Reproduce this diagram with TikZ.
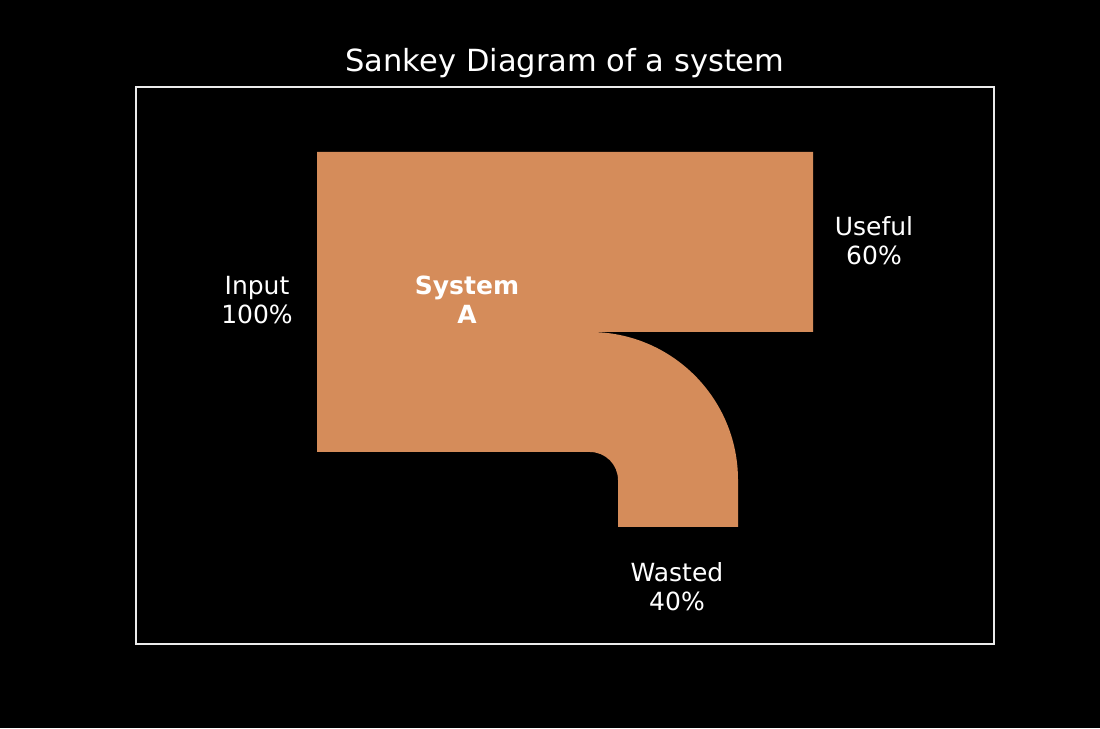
\documentclass[tikz,border=0pt]{standalone}
\usepackage{fontspec}
\setmainfont{DejaVu Sans}
\definecolor{flow}{RGB}{213,140,90}
\begin{document}
\begin{tikzpicture}[x=1pt,y=1pt,
  lbl/.style={text=white,align=center,font=\fontsize{25}{29}\selectfont,inner sep=0pt},
  ttl/.style={text=white,font=\fontsize{30.5}{34}\selectfont,inner sep=0pt}]
\fill[black] (0,0) rectangle (1100,728);
\useasboundingbox (0,0) rectangle (1100,728);
\draw[white!92!black,line width=2pt] (136,84) rectangle (994,641);
\fill[flow] (317,576) -- (813,576) -- (813,396) -- (590,396)
  arc[start angle=90,end angle=0,radius=148] -- (738,201) -- (618,201) -- (618,248)
  arc[start angle=0,end angle=90,radius=28] -- (317,276) -- cycle;
\node[ttl,anchor=base] (title) at (565,656) {Sankey Diagram of a system};
\node[lbl] (input) at (257,428) {Input\\100\%};
\node[lbl,font=\fontsize{25}{29}\selectfont\bfseries] (sys) at (467,428) {System\\A};
\node[lbl] (useful) at (874,487) {Useful\\60\%};
\node[lbl] (wasted) at (677,141) {Wasted\\40\%};
\end{tikzpicture}
\end{document}
